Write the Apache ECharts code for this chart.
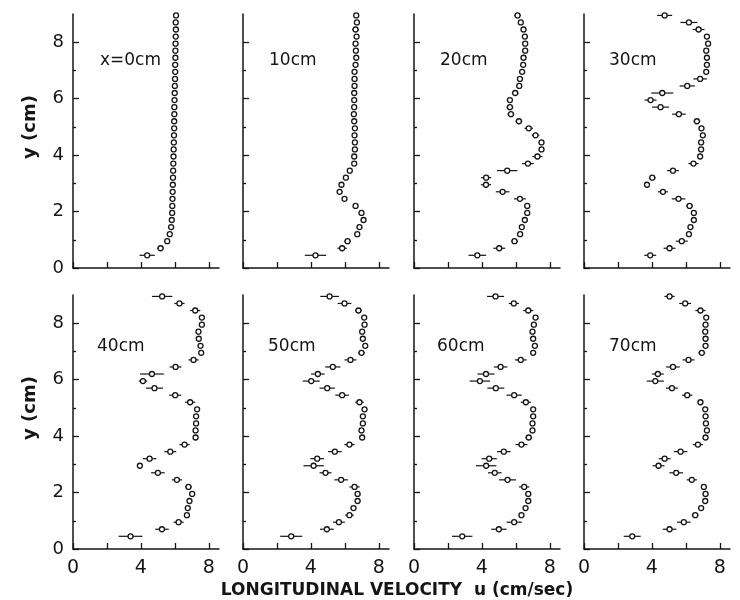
<!DOCTYPE html>
<html>
<head>
<meta charset="utf-8">
<script src="https://cdn.jsdelivr.net/npm/echarts@6/dist/echarts.min.js"></script>
<style>html,body{margin:0;padding:0;background:#fff}#c{width:740px;height:600px}</style>
</head>
<body>
<div id="c"></div>
<script>
// Measurement heights (cm), bottom to top
const yPos = [0.45,0.70,0.95,1.20,1.45,1.70,1.95,2.20,2.45,2.70,2.95,3.20,3.45,3.70,3.95,4.20,4.45,4.70,4.95,5.20,5.45,5.70,5.95,6.20,6.45,6.70,6.95,7.20,7.45,7.70,7.95,8.20,8.45,8.70,8.95];
const panelLabels = ['x=0cm','10cm','20cm','30cm','40cm','50cm','60cm','70cm'];
const xTickLabels = [0,4,8];
const yTickLabels = [0,2,4,6,8];

// Longitudinal velocity u (cm/sec), bottom to top
const u0  = [4.37,5.16,5.55,5.70,5.78,5.82,5.84,5.85,5.86,5.87,5.88,5.89,5.90,5.91,5.92,5.93,5.94,5.95,5.96,5.96,5.97,5.97,5.98,5.99,6.00,6.01,6.02,6.02,6.03,6.03,6.04,6.05,6.06,6.05,6.07];
const u10 = [4.27,5.84,6.16,6.73,6.86,7.10,6.98,6.63,5.98,5.69,5.80,6.06,6.29,6.55,6.55,6.59,6.59,6.57,6.59,6.55,6.53,6.55,6.55,6.55,6.57,6.57,6.57,6.63,6.67,6.65,6.63,6.69,6.63,6.71,6.67];
const u20 = [3.73,5.02,5.92,6.25,6.35,6.53,6.67,6.67,6.24,5.22,4.24,4.25,5.49,6.71,7.27,7.51,7.51,7.16,6.76,6.18,5.71,5.65,5.65,5.96,6.20,6.24,6.37,6.43,6.45,6.55,6.55,6.53,6.45,6.29,6.10];
const u30 = [3.90,5.04,5.76,6.18,6.27,6.47,6.47,6.22,5.57,4.65,3.71,4.02,5.24,6.45,6.84,6.90,6.90,7.00,6.92,6.65,5.59,4.51,3.92,4.61,6.08,6.84,7.20,7.24,7.24,7.20,7.31,7.24,6.75,6.18,4.75];
const u40 = [3.39,5.24,6.22,6.71,6.76,6.86,7.02,6.80,6.12,5.00,3.94,4.51,5.73,6.57,7.22,7.22,7.25,7.25,7.31,6.90,6.02,4.80,4.12,4.65,6.04,7.10,7.55,7.51,7.41,7.39,7.59,7.59,7.20,6.27,5.25];
const u50 = [2.84,4.94,5.65,6.27,6.51,6.75,6.75,6.57,5.78,4.86,4.16,4.37,5.41,6.27,7.02,6.98,7.06,7.06,7.16,6.86,5.84,4.96,4.02,4.41,5.29,6.33,6.98,7.20,7.06,7.02,7.16,7.14,6.80,5.98,5.10];
const u60 = [2.84,5.00,5.90,6.33,6.57,6.73,6.73,6.49,5.51,4.76,4.25,4.43,5.29,6.33,6.76,6.98,6.98,7.02,7.02,6.59,5.90,4.82,3.88,4.24,5.10,6.29,7.02,7.12,7.02,6.98,7.06,7.16,6.73,5.88,4.80];
const u70 = [2.84,5.04,5.88,6.55,6.90,7.14,7.16,7.06,6.35,5.43,4.39,4.75,5.69,6.71,7.16,7.24,7.18,7.16,7.14,6.86,6.08,5.18,4.20,4.35,5.24,6.16,6.94,7.16,7.16,7.14,7.16,7.20,6.86,5.96,5.04];

// Half-width of horizontal error bars (cm/sec), bottom to top
const e0  = [0.45,0.20,0.12,0.10,0.08,0.08,0.08,0.08,0.08,0.08,0.08,0.08,0.08,0.08,0.08,0.08,0.08,0.08,0.08,0.08,0.08,0.08,0.08,0.08,0.08,0.08,0.08,0.08,0.08,0.08,0.08,0.08,0.08,0.08,0.08];
const e10 = [0.63,0.28,0.20,0.15,0.12,0.15,0.12,0.15,0.12,0.10,0.10,0.12,0.10,0.10,0.10,0.10,0.10,0.10,0.10,0.10,0.10,0.10,0.10,0.10,0.10,0.10,0.10,0.12,0.10,0.10,0.10,0.10,0.20,0.10,0.12];
const e20 = [0.52,0.35,0.20,0.15,0.15,0.15,0.15,0.15,0.35,0.40,0.30,0.30,0.60,0.35,0.30,0.15,0.15,0.22,0.25,0.20,0.20,0.20,0.18,0.20,0.15,0.15,0.15,0.15,0.15,0.15,0.12,0.15,0.15,0.15,0.20];
const e30 = [0.35,0.35,0.35,0.15,0.12,0.10,0.10,0.20,0.40,0.30,0.15,0.20,0.35,0.30,0.12,0.10,0.10,0.10,0.10,0.20,0.40,0.50,0.35,0.65,0.45,0.40,0.12,0.10,0.10,0.10,0.12,0.12,0.35,0.50,0.44];
const e40 = [0.70,0.40,0.30,0.10,0.10,0.10,0.15,0.20,0.30,0.40,0.15,0.40,0.35,0.30,0.10,0.10,0.10,0.10,0.12,0.30,0.35,0.50,0.25,0.70,0.35,0.30,0.10,0.10,0.10,0.10,0.10,0.10,0.30,0.30,0.60];
const e50 = [0.65,0.40,0.35,0.25,0.12,0.12,0.15,0.30,0.40,0.35,0.60,0.40,0.40,0.30,0.15,0.12,0.10,0.10,0.12,0.25,0.40,0.45,0.50,0.40,0.45,0.35,0.20,0.12,0.12,0.12,0.10,0.10,0.20,0.40,0.55];
const e60 = [0.60,0.45,0.45,0.15,0.12,0.12,0.15,0.30,0.50,0.40,0.60,0.45,0.40,0.35,0.20,0.12,0.12,0.12,0.12,0.30,0.45,0.50,0.60,0.50,0.40,0.35,0.12,0.12,0.12,0.10,0.12,0.12,0.30,0.30,0.50];
const e70 = [0.50,0.40,0.40,0.20,0.15,0.10,0.12,0.15,0.30,0.40,0.35,0.35,0.40,0.30,0.15,0.12,0.12,0.12,0.12,0.15,0.30,0.35,0.50,0.35,0.40,0.35,0.20,0.10,0.10,0.10,0.10,0.12,0.30,0.35,0.30];

const U = [u0,u10,u20,u30,u40,u50,u60,u70];
const E = [e0,e10,e20,e30,e40,e50,e60,e70];

const INK = '#151515';
const FONT = '"DejaVu Sans", sans-serif';
const gridLeft = [73, 243, 414, 584];
const gridTop = [14, 295];
const grids = [], xAxes = [], yAxes = [], series = [], graphics = [];

for (let i = 0; i < 8; i++) {
  const r = i < 4 ? 0 : 1, c = i % 4;
  grids.push({left: gridLeft[c], top: gridTop[r], width: 146, height: 254});
  xAxes.push({
    type: 'value', gridIndex: i, min: 0, max: 8.6,
    axisLine: {show: true, onZero: false, lineStyle: {color: INK, width: 1.5}},
    axisTick: {show: true, inside: true, length: 6, customValues: [0,2,4,6,8], lineStyle: {color: INK, width: 1.3}},
    axisLabel: {show: r === 1, customValues: xTickLabels, color: INK, fontSize: 19, fontFamily: FONT, margin: 10},
    splitLine: {show: false}
  });
  yAxes.push({
    type: 'value', gridIndex: i, min: 0, max: 9,
    axisLine: {show: true, onZero: false, lineStyle: {color: INK, width: 1.5}},
    axisTick: {show: true, inside: true, length: 6, customValues: [0,2,4,6,8], lineStyle: {color: INK, width: 1.3}},
    axisLabel: {show: c === 0, customValues: yTickLabels, color: INK, fontSize: 18, fontFamily: FONT, margin: 9},
    splitLine: {show: false}
  });
  yAxes.push({
    type: 'value', gridIndex: i, min: 0, max: 9, position: 'left',
    axisLine: {show: false},
    axisTick: {show: true, inside: true, length: 3, customValues: [1,3,5,7], lineStyle: {color: INK, width: 1.3}},
    axisLabel: {show: false},
    splitLine: {show: false}
  });
  const u = U[i], e = E[i];
  const bars = yPos.map((y, k) => [u[k] - e[k], u[k] + e[k], y]);
  const pts = yPos.map((y, k) => [u[k], y]);
  series.push({
    type: 'custom', xAxisIndex: i, yAxisIndex: 2 * i, data: bars, clip: false, silent: true,
    encode: {x: [0, 1], y: 2},
    renderItem: function (params, api) {
      const p1 = api.coord([api.value(0), api.value(2)]);
      const p2 = api.coord([api.value(1), api.value(2)]);
      return {type: 'line', shape: {x1: p1[0], y1: p1[1], x2: p2[0], y2: p2[1]}, style: {stroke: INK, lineWidth: 1.2}};
    }
  });
  series.push({
    type: 'scatter', xAxisIndex: i, yAxisIndex: 2 * i, data: pts, clip: false, silent: true,
    symbol: 'circle', symbolSize: 5, z: 5,
    itemStyle: {color: '#fff', borderColor: INK, borderWidth: 1.3, opacity: 1}
  });
}

const labelPos = [[100,61],[269,61],[440,61],[609,61],[97,347],[268,347],[437,347],[609,347]];
panelLabels.forEach((t, i) => {
  graphics.push({type: 'text', x: labelPos[i][0], y: labelPos[i][1],
    style: {text: t, font: '17px ' + FONT, fill: INK, align: 'left', verticalAlign: 'middle'}});
});
[127, 408].forEach(cy => {
  graphics.push({type: 'text', x: 30, y: cy, rotation: Math.PI / 2,
    style: {text: 'y (cm)', font: 'bold 18px ' + FONT, fill: INK, align: 'center', verticalAlign: 'middle'}});
});
graphics.push({type: 'text', x: 397, y: 591,
  style: {text: 'LONGITUDINAL VELOCITY  u (cm/sec)', font: 'bold 17px ' + FONT, fill: INK, align: 'center', verticalAlign: 'middle'}});

const chart = echarts.init(document.getElementById('c'), null, {renderer: 'canvas'});
chart.setOption({
  animation: false,
  backgroundColor: '#fff',
  grid: grids, xAxis: xAxes, yAxis: yAxes, series: series, graphic: graphics
});
</script>
</body>
</html>
